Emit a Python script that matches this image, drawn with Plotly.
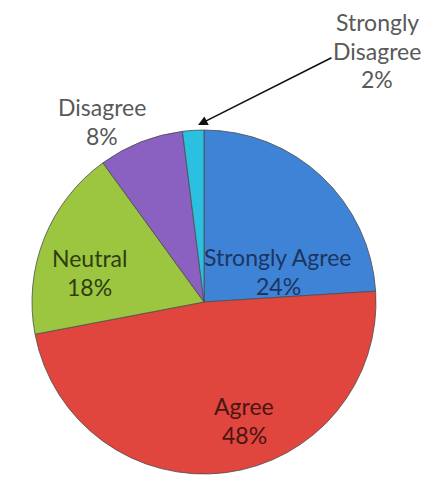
import plotly.graph_objects as go

# Survey responses (percent of respondents), clockwise from 12 o'clock
categories = ["Strongly Agree", "Agree", "Neutral", "Disagree", "Strongly Disagree"]
shares = [24, 48, 18, 8, 2]
slice_colors = ["#3f83d6", "#e0453e", "#9cc63f", "#8a60c0", "#2cc0e0"]
label_colors = ["#1c3562", "#4a1512", "#2f3d12", "#595959", "#595959"]

W, H = 437, 477
cx, cy, r = 204, 302, 172  # pie centre / radius in pixels (top-left origin)

fig = go.Figure(
    go.Pie(
        labels=categories,
        values=shares,
        sort=False,
        direction="clockwise",
        rotation=0,
        marker=dict(colors=slice_colors, line=dict(color="#4d4d4d", width=0.8)),
        textinfo="none",
        hoverinfo="label+percent",
        showlegend=False,
        domain=dict(
            x=[(cx - r) / W, (cx + r) / W],
            y=[(H - cy - r) / H, (H - cy + r) / H],
        ),
    )
)

# pixel position of the first text line of each label (centre x, middle y)
label_pos = {
    "Strongly Agree": (278, 257),
    "Agree": (244, 406),
    "Neutral": (89, 258),
    "Disagree": (102, 107),
    "Strongly Disagree": (377, 22),
}
LINE_STEP = 28.5

def px(x, y):
    return x / W, 1 - y / H

annotations = []
for cat, val, col in zip(categories, shares, label_colors):
    lines = cat.split(" ") if cat == "Strongly Disagree" else [cat]
    lines = lines + [f"{val}%"]
    x0, y0 = label_pos[cat]
    for i, line in enumerate(lines):
        x, y = px(x0, y0 + i * LINE_STEP)
        annotations.append(
            dict(
                x=x, y=y, xref="paper", yref="paper",
                xanchor="center", yanchor="middle",
                text=line, showarrow=False,
                font=dict(family="Lato", size=23, color=col),
            )
        )

# leader arrow for the thin slice
hx, hy = px(198, 125)
annotations.append(
    dict(
        x=hx, y=hy, xref="paper", yref="paper",
        ax=333 - 198, ay=57 - 125,
        text="", showarrow=True,
        arrowhead=2, arrowsize=1.2, arrowwidth=1.6, arrowcolor="#111111",
    )
)

fig.update_layout(
    width=W, height=H,
    margin=dict(l=0, r=0, t=0, b=0),
    paper_bgcolor="white",
    plot_bgcolor="white",
    annotations=annotations,
)

fig.write_html("out.html")
